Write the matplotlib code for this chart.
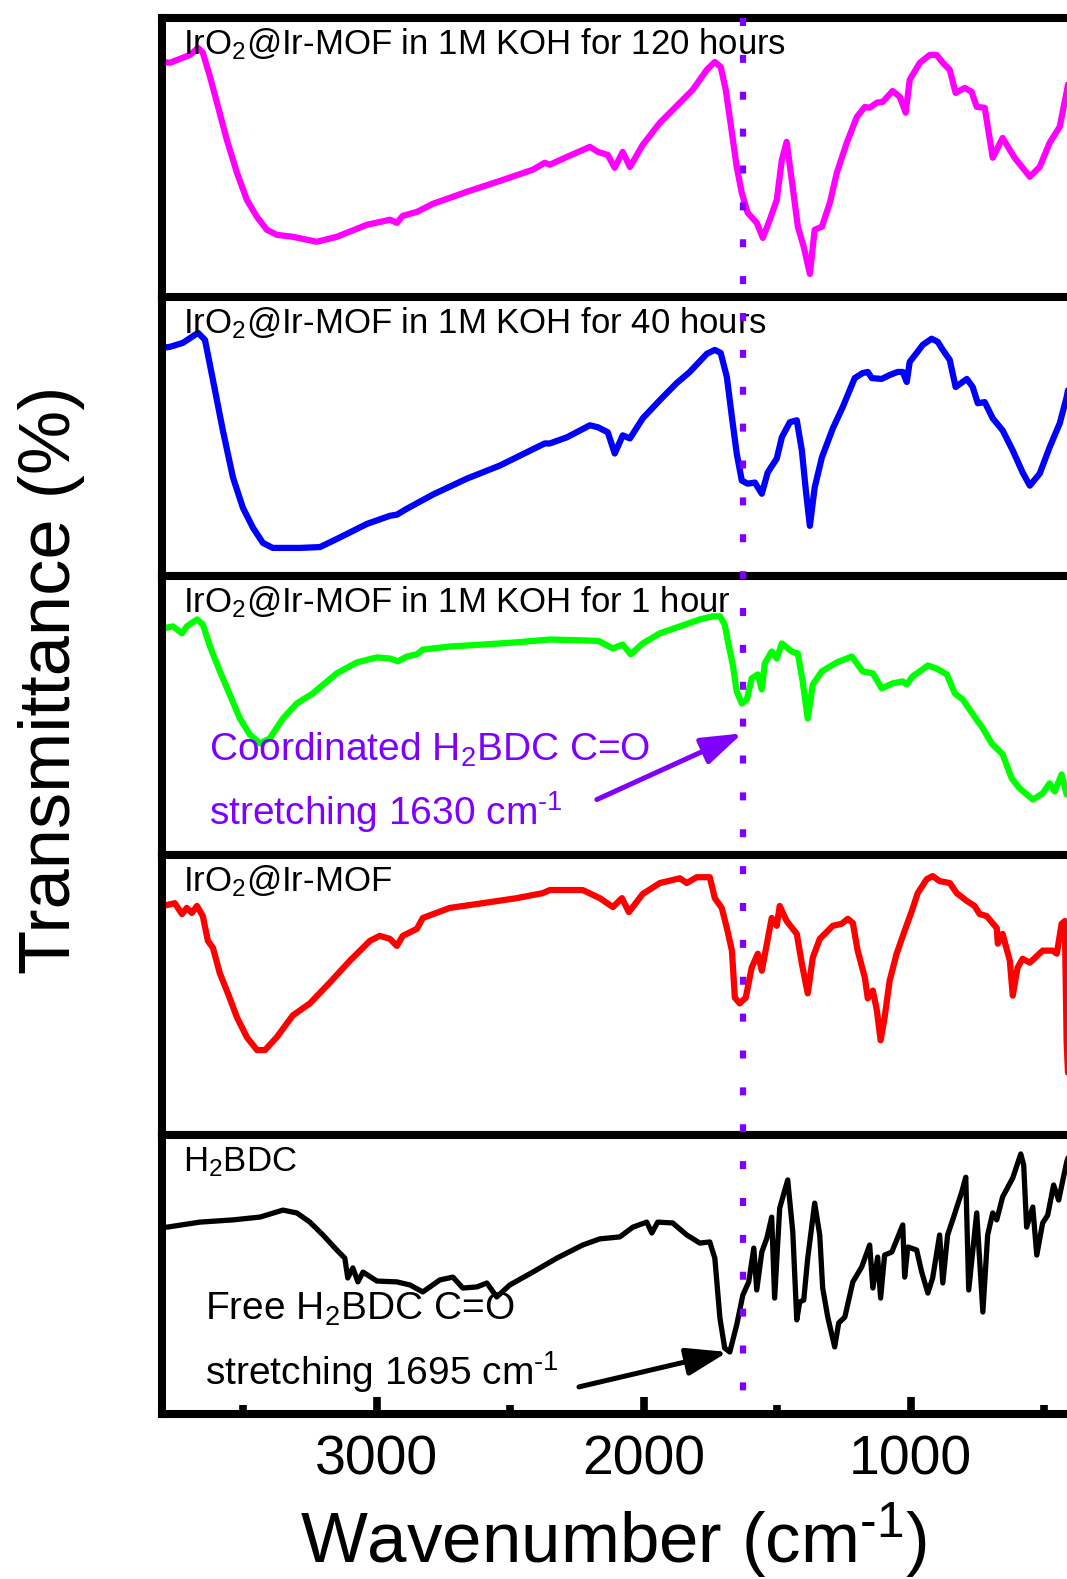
import matplotlib
matplotlib.use("Agg")
import matplotlib.pyplot as plt
from matplotlib.lines import Line2D
from matplotlib.transforms import blended_transform_factory

plt.rcParams['font.family'] = ['Liberation Sans', 'DejaVu Sans']
plt.rcParams['mathtext.fontset'] = 'custom'
plt.rcParams['mathtext.rm'] = 'Liberation Sans'
plt.rcParams['mathtext.it'] = 'Liberation Sans:italic'
plt.rcParams['mathtext.bf'] = 'Liberation Sans:bold'

# ---- FTIR spectra (wavenumber in cm^-1, transmittance offset per panel) ----
wn_koh120 = [3801, 3775, 3727, 3700, 3670, 3652, 3625, 3599, 3562, 3524, 3487, 3449, 3412, 3375, 3315,
             3225, 3150, 3037, 2951, 2925, 2903, 2850, 2790, 2663, 2539, 2416, 2371, 2352, 2288, 2202,
             2172, 2135, 2109, 2079, 2052, 2004, 1940, 1865, 1817, 1764, 1734, 1712, 1693, 1670, 1652,
             1633, 1611, 1577, 1554, 1528, 1502, 1483, 1465, 1446, 1423, 1401, 1378, 1360, 1333, 1303,
             1277, 1240, 1202, 1172, 1154, 1127, 1105, 1068, 1041, 1019, 1004, 966, 929, 903, 880,
             854, 832, 798, 772, 753, 723, 693, 656, 611, 554, 517, 480, 442, 416, 400]
t_koh120 = [84.1, 83.8, 85.6, 86.6, 89.1, 87.4, 78.8, 69.5, 56.2, 44.4, 34.7, 28.6, 24.0, 22.2, 21.5,
            19.7, 21.5, 25.8, 27.6, 26.5, 29.0, 30.4, 33.3, 37.6, 41.5, 45.5, 48.0, 47.3, 50.1, 53.7,
            51.9, 50.8, 46.2, 51.9, 46.5, 54.4, 62.3, 69.5, 74.1, 81.3, 84.1, 82.3, 74.1, 58.7, 46.5,
            37.2, 30.1, 26.5, 21.1, 27.6, 34.7, 49.0, 55.5, 41.9, 25.1, 17.9, 8.2, 24.0, 25.1, 33.7,
            44.4, 55.1, 64.4, 68.0, 67.7, 69.5, 69.8, 73.7, 71.6, 65.9, 77.7, 83.8, 86.6, 86.6, 83.8,
            81.3, 73.0, 74.8, 73.4, 68.0, 67.7, 49.8, 56.9, 49.8, 43.0, 46.5, 55.1, 60.9, 73.4, 82.0]

wn_koh40 = [3805, 3775, 3727, 3670, 3644, 3614, 3577, 3539, 3502, 3464, 3427, 3390, 3288, 3213, 3150,
            3037, 2951, 2925, 2888, 2790, 2663, 2539, 2416, 2371, 2352, 2288, 2202, 2172, 2135, 2109,
            2079, 2052, 2004, 1940, 1877, 1828, 1764, 1734, 1712, 1689, 1670, 1652, 1633, 1611, 1584,
            1558, 1536, 1502, 1483, 1453, 1427, 1408, 1393, 1378, 1360, 1333, 1292, 1255, 1210, 1180,
            1161, 1146, 1109, 1079, 1049, 1030, 1015, 1004, 978, 955, 922, 899, 880, 854, 832,
            790, 768, 749, 723, 693, 656, 618, 581, 554, 517, 480, 442, 416, 400]
t_koh40 = [81.7, 82.1, 83.5, 87.1, 84.6, 70.2, 52.2, 35.3, 24.5, 17.3, 11.9, 10.1, 10.1, 10.4, 13.3,
           18.7, 21.6, 22.0, 24.1, 29.2, 34.9, 39.6, 45.4, 47.5, 47.5, 49.7, 54.0, 53.3, 51.5, 43.9,
           50.4, 49.3, 56.5, 63.0, 69.1, 73.1, 79.6, 81.0, 79.9, 71.3, 56.9, 43.9, 34.2, 33.1, 33.5,
           29.5, 37.1, 42.1, 49.7, 55.1, 55.8, 45.0, 30.6, 18.0, 31.7, 42.5, 52.9, 60.5, 70.9, 72.7,
           73.1, 70.9, 70.6, 72.0, 73.1, 73.1, 69.5, 76.7, 79.9, 82.8, 85.0, 83.9, 81.0, 77.4, 67.7,
           70.6, 67.7, 61.9, 62.3, 56.5, 52.2, 45.0, 37.1, 32.4, 36.7, 46.1, 54.7, 64.1, 72.0]

wn_koh1 = [3801, 3764, 3730, 3712, 3674, 3652, 3625, 3588, 3551, 3513, 3476, 3438, 3401, 3352, 3300,
           3240, 3150, 3075, 3000, 2951, 2921, 2888, 2850, 2828, 2727, 2603, 2476, 2352, 2229, 2170,
           2116, 2079, 2049, 2004, 1940, 1865, 1790, 1742, 1715, 1697, 1685, 1667, 1652, 1633, 1614,
           1596, 1573, 1558, 1547, 1521, 1502, 1483, 1446, 1423, 1405, 1386, 1367, 1333, 1277, 1221,
           1180, 1142, 1109, 1068, 1030, 1015, 993, 966, 936, 903, 865, 835, 805, 749, 730,
           697, 656, 622, 592, 543, 506, 480, 461, 435, 416, 400]
t_koh1 = [81.3, 82.0, 79.5, 82.0, 84.5, 82.7, 74.8, 65.9, 57.6, 49.0, 43.3, 40.1, 41.9, 49.0, 54.4,
          58.0, 65.2, 69.1, 70.9, 70.5, 69.5, 71.2, 72.0, 73.7, 74.8, 75.5, 76.3, 77.3, 77.0, 76.8,
          74.1, 75.5, 72.0, 75.9, 79.5, 82.0, 84.5, 85.6, 85.6, 82.7, 76.6, 68.4, 58.7, 54.4, 55.8,
          63.4, 64.8, 59.4, 68.7, 73.0, 70.5, 75.9, 73.0, 72.3, 62.3, 49.0, 61.2, 65.9, 69.1, 71.2,
          65.9, 65.2, 59.8, 61.6, 62.3, 61.2, 64.1, 65.9, 68.0, 66.9, 64.8, 58.0, 55.8, 48.0, 45.5,
          40.1, 36.2, 27.6, 24.0, 20.0, 22.2, 25.8, 22.9, 29.0, 21.8, 26.0]

wn_mof = [3801, 3757, 3730, 3712, 3693, 3674, 3652, 3633, 3614, 3588, 3558, 3524, 3487, 3449, 3419,
          3375, 3315, 3251, 3176, 3101, 3026, 2989, 2951, 2925, 2903, 2850, 2828, 2727, 2603, 2476,
          2378, 2352, 2229, 2165, 2116, 2082, 2056, 2004, 1940, 1865, 1839, 1802, 1753, 1734, 1708,
          1689, 1670, 1659, 1641, 1618, 1596, 1573, 1558, 1539, 1521, 1502, 1491, 1465, 1427, 1408,
          1386, 1367, 1341, 1292, 1259, 1236, 1217, 1199, 1172, 1161, 1142, 1127, 1113, 1098, 1079,
          1053, 1023, 996, 974, 940, 918, 892, 854, 828, 790, 761, 742, 716, 678, 674,
          656, 629, 618, 600, 581, 554, 506, 468, 453, 435, 423, 416, 410]
t_mof = [81.9, 82.9, 79.0, 81.2, 79.4, 81.9, 78.3, 69.4, 66.9, 57.7, 50.6, 42.0, 34.9, 30.3, 30.3,
         34.9, 42.7, 47.0, 54.5, 62.3, 69.4, 71.2, 70.1, 67.6, 71.2, 73.7, 77.6, 81.2, 82.9, 84.7,
         86.5, 87.6, 87.6, 84.7, 81.5, 84.7, 79.7, 86.2, 90.1, 91.8, 90.1, 92.2, 92.2, 84.7, 81.2,
         74.0, 65.9, 49.1, 47.0, 49.1, 59.8, 64.8, 58.7, 68.4, 77.6, 74.8, 81.9, 76.5, 71.9, 61.2,
         50.6, 63.4, 70.1, 74.8, 75.5, 77.3, 75.8, 65.9, 56.2, 48.8, 51.6, 44.5, 33.8, 42.0, 55.2,
         64.8, 73.0, 80.1, 86.5, 91.5, 92.6, 90.8, 90.1, 86.5, 83.7, 81.9, 79.0, 78.3, 74.0, 68.4,
         71.9, 62.3, 49.8, 59.8, 63.0, 61.6, 65.9, 65.9, 64.8, 75.5, 76.5, 32.8, 20.0]

wn_bdc = [3805, 3786, 3663, 3539, 3438, 3352, 3300, 3251, 3202, 3150, 3120, 3109, 3090, 3071, 3052,
          3000, 2925, 2876, 2828, 2764, 2715, 2678, 2625, 2588, 2551, 2502, 2416, 2326, 2229, 2165,
          2090, 2041, 1989, 1970, 1948, 1892, 1839, 1790, 1753, 1734, 1715, 1697, 1678, 1652, 1629,
          1607, 1588, 1577, 1558, 1539, 1521, 1510, 1491, 1461, 1442, 1427, 1416, 1401, 1386, 1360,
          1341, 1330, 1311, 1285, 1270, 1247, 1217, 1184, 1154, 1142, 1124, 1113, 1098, 1071, 1030,
          1023, 1011, 978, 959, 936, 918, 892, 880, 862, 843, 809, 794, 783, 753, 730,
          712, 693, 678, 656, 618, 588, 577, 566, 543, 528, 506, 487, 465, 446, 416, 400]
t_bdc = [66.9, 66.9, 68.7, 69.5, 70.5, 73.0, 72.0, 68.7, 64.1, 58.7, 55.8, 48.7, 52.3, 47.3, 50.8,
         47.6, 47.3, 46.2, 43.7, 48.0, 49.0, 45.1, 45.5, 46.9, 41.9, 46.2, 50.8, 55.8, 60.5, 62.7,
         63.4, 66.9, 68.7, 64.8, 68.7, 68.4, 64.1, 61.2, 61.6, 55.8, 34.4, 23.6, 22.2, 31.9, 42.6,
         47.3, 59.4, 44.4, 58.0, 63.0, 70.5, 41.5, 73.7, 83.8, 65.2, 33.7, 40.1, 40.8, 55.8, 75.5,
         64.1, 45.1, 34.7, 24.0, 32.6, 34.7, 47.3, 52.6, 60.5, 45.1, 56.2, 41.5, 56.9, 58.0, 67.7,
         49.0, 59.8, 58.7, 50.8, 43.3, 48.7, 64.1, 46.9, 64.1, 69.5, 79.5, 84.8, 44.4, 72.0, 36.5,
         64.1, 72.0, 69.5, 77.7, 84.5, 93.1, 89.1, 66.9, 74.1, 56.9, 68.4, 71.2, 82.0, 76.6, 90.2, 95.0]

sample_labels = [r'IrO$_{\mathregular{2}}$@Ir-MOF in 1M KOH for 120 hours',
                 r'IrO$_{\mathregular{2}}$@Ir-MOF in 1M KOH for 40 hours',
                 r'IrO$_{\mathregular{2}}$@Ir-MOF in 1M KOH for 1 hour',
                 r'IrO$_{\mathregular{2}}$@Ir-MOF',
                 r'H$_{\mathregular{2}}$BDC']
sample_colors = ['#ff00ff', '#0000ff', '#00ff00', '#ff0000', '#000000']
spectra = [(wn_koh120, t_koh120), (wn_koh40, t_koh40), (wn_koh1, t_koh1),
           (wn_mof, t_mof), (wn_bdc, t_bdc)]

major_ticks = [3000, 2000, 1000]
major_labels = ['3000', '2000', '1000']
minor_ticks = [3500, 2500, 1500, 500]

coordinated_peak = 1630   # cm^-1
free_peak = 1695          # cm^-1

VIOLET = '#7f00ff'
INV_CM = r'cm$^{\mathregular{‐1}}$'   # hyphen-style superscript

# ---- layout: five stacked panels sharing the wavenumber axis ----
fig = plt.figure(figsize=(10.67, 15.79), dpi=100)
fig.patch.set_facecolor('white')
left, right = 0.1518, 1.0037
bottom, top = 0.1045, 0.9889
ph = (top - bottom) / 5

axes = []
for i, ((wn, t), color, label) in enumerate(zip(spectra, sample_colors, sample_labels)):
    ax = fig.add_axes([left, top - (i + 1) * ph, right - left, ph])
    lw = 3.8 if color == '#000000' else 4.5
    ax.plot(wn, t, color=color, lw=lw, solid_joinstyle='round', solid_capstyle='round')
    ax.set_xlim(3805, 400)
    ax.set_ylim(0, 100)
    for sp in ax.spines.values():
        sp.set_linewidth(5.8)
        sp.set_color('black')
    ax.tick_params(which='both', bottom=False, left=False, top=False, right=False,
                   labelbottom=False, labelleft=False)
    ax.text(0.023, 0.87, label, transform=ax.transAxes, fontsize=25,
            ha='left', va='baseline', color='black')
    axes.append(ax)

axb = axes[-1]
axb.set_xticks(major_ticks, labels=major_labels, fontsize=40)
axb.set_xticks(minor_ticks, minor=True)
axb.tick_params(axis='x', which='major', direction='in', length=12, width=5.5,
                bottom=True, labelbottom=True, pad=15)
axb.tick_params(axis='x', which='minor', direction='in', length=6.5, width=5.5, bottom=True)

axb.set_xlabel('Wavenumber (' + INV_CM + ')', fontsize=51)
axb.xaxis.set_label_coords(614 / 1067, 1 - 1563 / 1579, transform=fig.transFigure)
axb.xaxis.label.set_verticalalignment('baseline')

fig.text(52 / 1067, 1 - 680 / 1579, 'Transmittance (%)', rotation=90, fontsize=52,
         ha='center', va='center')

# dotted marker through all panels at the coordinated C=O band
trans = blended_transform_factory(axb.transData, fig.transFigure)
fig.add_artist(Line2D([coordinated_peak, coordinated_peak], [1 - 18 / 1579, 1 - 1392 / 1579],
                      transform=trans, color=VIOLET, lw=4.5,
                      linestyle=(0, (1.28, 4.62)), dash_capstyle='butt'))

# annotations
axg = axes[2]
axg.annotate('', xy=(coordinated_peak + 1, 43.7), xytext=(2176, 20.0),
             arrowprops=dict(arrowstyle='-|>,head_length=1.25,head_width=0.42',
                             mutation_scale=20, color=VIOLET, lw=3.6,
                             shrinkA=0, shrinkB=0))
axg.text(3629, 34.0, r'Coordinated H$_{\mathregular{2}}$BDC C=O', fontsize=28,
         color=VIOLET, ha='left', va='baseline')
axg.text(3629, 11.1, 'stretching 1630 ' + INV_CM, fontsize=28,
         color=VIOLET, ha='left', va='baseline')

axb.annotate('', xy=(free_peak - 9, 22.2), xytext=(2243, 9.7),
             arrowprops=dict(arrowstyle='-|>,head_length=1.25,head_width=0.42',
                             mutation_scale=20, color='black', lw=3.6,
                             shrinkA=0, shrinkB=0))
axb.text(3644, 33.7, r'Free H$_{\mathregular{2}}$BDC C=O', fontsize=28,
         color='black', ha='left', va='baseline')
axb.text(3644, 10.4, 'stretching 1695 ' + INV_CM, fontsize=28,
         color='black', ha='left', va='baseline')

fig.savefig('out.png', dpi=100, facecolor='white')
